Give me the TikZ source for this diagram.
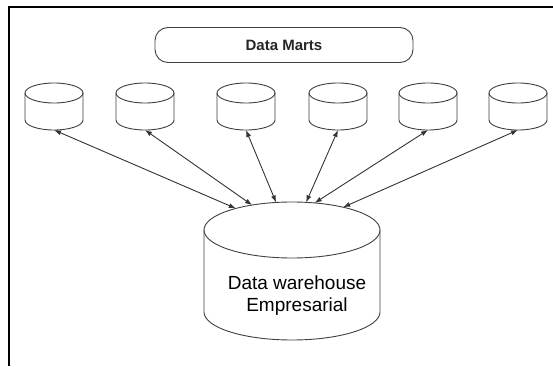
\documentclass[tikz,border=0pt]{standalone}
\usepackage{fontspec}
\setmainfont{Liberation Sans}
\usetikzlibrary{shapes.geometric,arrows.meta}
\tikzset{%
  >={Latex[length=7pt,width=5pt]},
  drumline/.style={draw=black!75,line width=0.9pt},
  lid/.style={ellipse,drumline,inner sep=0pt,outer sep=0pt},
  link/.style={<->,draw=black!80,line width=0.9pt}%
}

\begin{document}
\begin{tikzpicture}[x=1pt,y=-1pt]
	%% frame of the page
	\useasboundingbox (0,0) rectangle (553,366);
	\draw[line width=2pt] (9,366) -- (9,7.5) -- (553,7.5);

	%% title box
	\node[drumline,rounded corners=13pt,
	  minimum width=258pt,minimum height=35pt,
	  font=\fontsize{15}{18}\selectfont\bfseries,text=black!85]
	  (marts) at (284,45) {Data Marts};

	%% the six data marts (lid + body)
	\foreach \x [count=\i] in {54,145,246,338,428,518} {
	  \node[lid,minimum width=58pt,minimum height=20pt] (dm\i) at (\x,93) {};
	  \draw[drumline] (dm\i.west) -- ++(0,27)
	    arc[start angle=180,end angle=0,x radius=29,y radius=10] -- (dm\i.east);
	  \coordinate (ft\i) at ([yshift=-27pt]dm\i.south);
	}

	%% the warehouse
	\node[lid,minimum width=176pt,minimum height=56pt] (dw) at (292,230) {};
	\draw[drumline] (dw.west) -- ++(0,82)
	  arc[start angle=180,end angle=0,x radius=88,y radius=28] -- (dw.east);
	\node[font=\fontsize{19}{22}\selectfont,align=center] (dwtext) at (297,296)
	  {Data warehouse\\Empresarial};

	%% links
	\foreach \i/\a in {1/159,2/148,3/120,4/63,5/50,6/24}
	  \draw[link] (ft\i) -- (dw.\a);
\end{tikzpicture}
\end{document}
